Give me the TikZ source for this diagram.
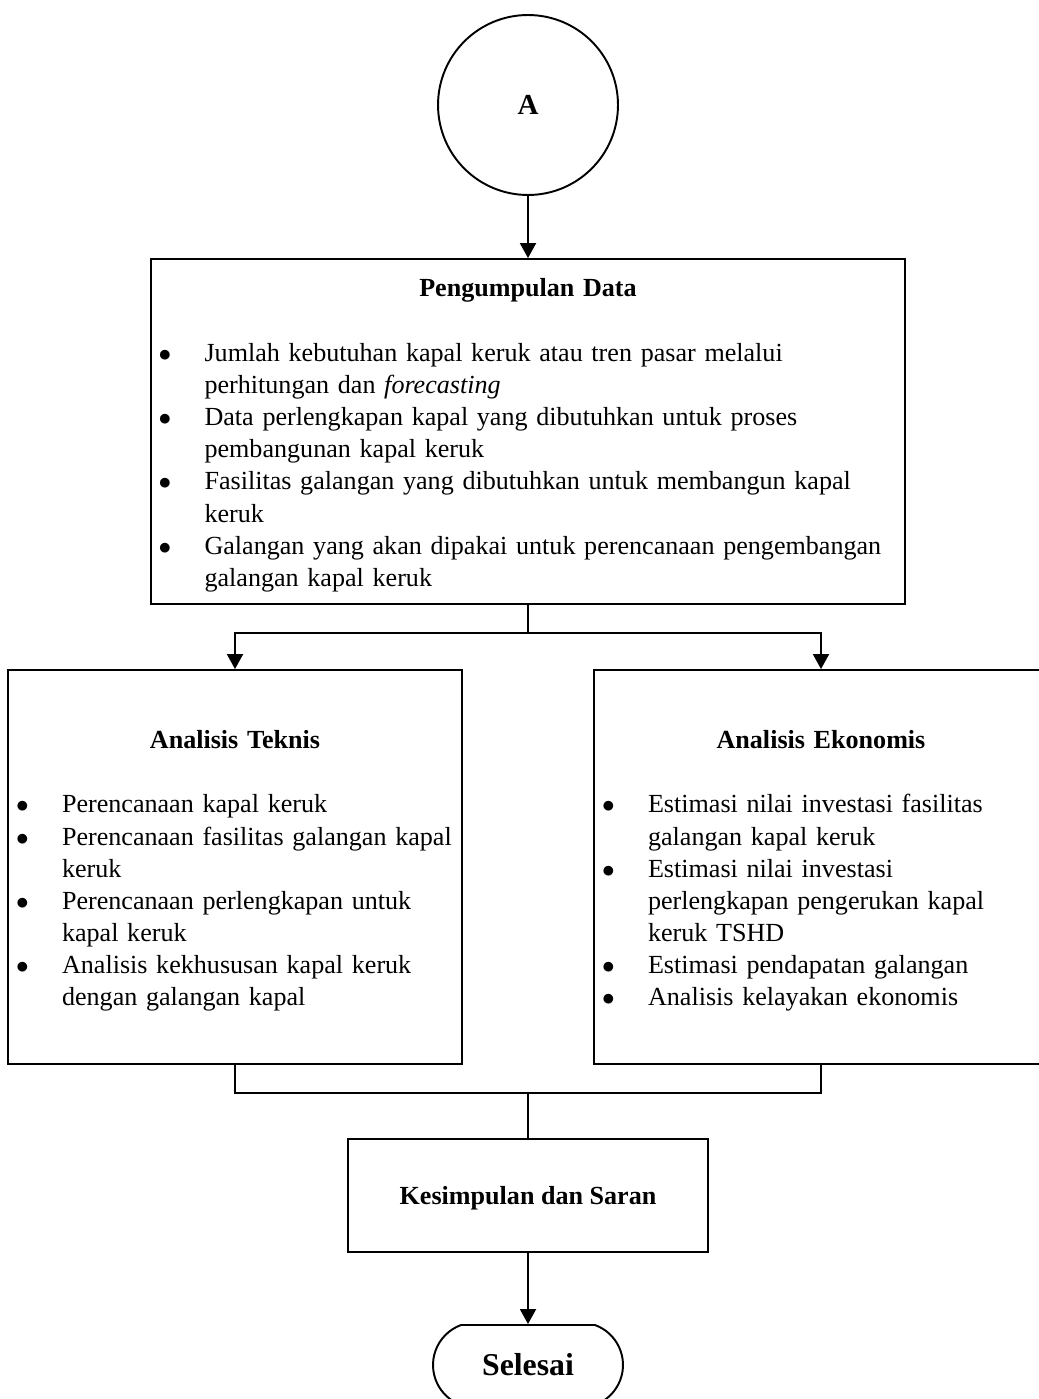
\documentclass[tikz,border=0pt]{standalone}
\usepackage{fontspec}
\setmainfont{Liberation Serif}
\usepackage{tikz}
\usetikzlibrary{arrows.meta,shapes.misc}

%% title line and bullet line inside the boxes
\newcommand{\judul}[1]{\noindent\rule{0pt}{0.52cm}\makebox[\hsize]{\bfseries #1}\par
  \vspace{0.644cm}}
\newcommand{\butir}[1]{\par\leftskip=0.08cm\rightskip=0pt plus 1fil
  \hyphenpenalty=10000\exhyphenpenalty=10000
  \noindent\hangindent=0.92cm\hangafter=1%
  \makebox[0.92cm][l]{$\bullet$}#1\par}

\begin{document}
\begin{tikzpicture}[x=0.02cm,y=-0.02cm,line width=1.1pt,
  >={Triangle[length=0.3cm,width=0.32cm]},
  teks/.style={font=\fontsize{14.85pt}{18.3pt}\selectfont},
  kotak/.style={draw,rectangle,teks,inner xsep=0.08cm,inner ysep=0pt},
  lingkaran/.style={draw,circle,minimum size=3.6cm,inner sep=0pt,
    font=\fontsize{16.5pt}{19pt}\selectfont\bfseries},
  terminal/.style={draw,rounded rectangle,rounded rectangle arc length=140,
    minimum width=3.8cm,minimum height=1.6cm,inner sep=0pt,
    font=\fontsize{18.1pt}{21pt}\selectfont\bfseries}]
\useasboundingbox (0,0) rectangle (1038,1399);

%% ---------------- connector A and data collection ----------------
\node[lingkaran] (A) at (528,105) {A};
\node[kotak,minimum width=15.1cm,minimum height=6.9cm,text width=14.94cm]
  (pd) at (528,431.5) {%
  \judul{Pengumpulan Data}
  \butir{Jumlah kebutuhan kapal keruk atau tren pasar melalui\newline
    perhitungan dan \textit{forecasting}}
  \butir{Data perlengkapan kapal yang dibutuhkan untuk proses\newline
    pembangunan kapal keruk}
  \butir{Fasilitas galangan yang dibutuhkan untuk membangun kapal\newline
    keruk}
  \butir{Galangan yang akan dipakai untuk perencanaan pengembangan\newline
    galangan kapal keruk}};

%% ---------------- the two analyses ----------------
\node[kotak,minimum width=9.08cm,minimum height=7.88cm,text width=8.92cm]
  (at) at (235,867) {%
  \judul{Analisis Teknis}
  \butir{Perencanaan kapal keruk}
  \butir{Perencanaan fasilitas galangan kapal\newline keruk}
  \butir{Perencanaan perlengkapan untuk\newline kapal keruk}
  \butir{Analisis kekhususan kapal keruk\newline dengan galangan kapal}};
\node[kotak,minimum width=9.08cm,minimum height=7.88cm,text width=8.92cm]
  (ae) at (821,867) {%
  \judul{Analisis Ekonomis}
  \butir{Estimasi nilai investasi fasilitas\newline galangan kapal keruk}
  \butir{Estimasi nilai investasi\newline perlengkapan pengerukan kapal\newline
    keruk TSHD}
  \butir{Estimasi pendapatan galangan}
  \butir{Analisis kelayakan ekonomis}};

%% ---------------- closing ----------------
\node[kotak,minimum width=7.2cm,minimum height=2.26cm,text depth=0pt,
  font=\fontsize{14.85pt}{18.3pt}\selectfont\bfseries]
  (ks) at (528,1195.5) {Kesimpulan dan Saran};
\node[terminal] (sl) at (528,1365) {Selesai};

%% ---------------- connectors ----------------
\coordinate (bagi) at (528,633);
\coordinate (gabung) at (528,1093);
\draw[->] (A) -- (pd);
\draw (pd) -- (bagi);
\draw[->] (bagi) -| (at);
\draw[->] (bagi) -| (ae);
\draw (at) |- (gabung);
\draw (ae) |- (gabung);
\draw (gabung) -- (ks);
\draw[->] (ks) -- (sl);

\end{tikzpicture}
\end{document}
